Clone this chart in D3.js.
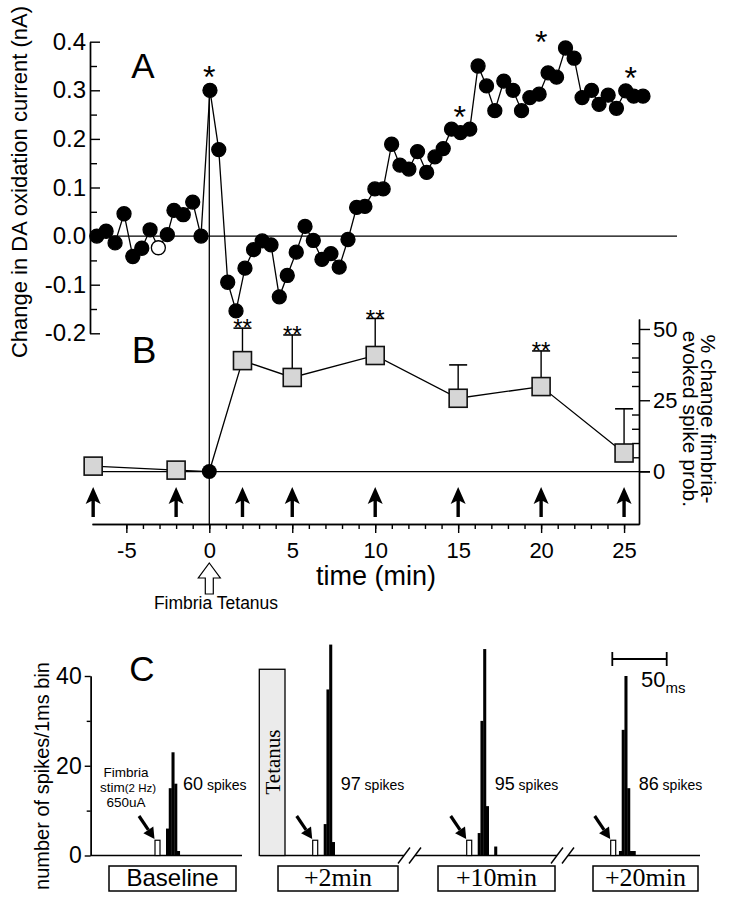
<!DOCTYPE html>
<html><head><meta charset="utf-8">
<script src="https://cdn.jsdelivr.net/npm/d3@7"></script>
<style>body{margin:0;background:#fff}svg{display:block}</style>
</head><body><svg id="c" width="743" height="899"></svg>
<script>
// ---------- DATA ----------
// Panel A: change in DA oxidation current (nA) vs time (min)
const daTime = [-6.78,-6.22,-5.68,-5.14,-4.61,-4.07,-3.57,-3.07,-2.53,-2.13,-1.57,-1.0,-0.5,0.04,0.57,1.11,1.61,2.15,2.67,3.19,3.72,4.22,4.70,5.24,5.77,6.27,6.79,7.33,7.83,8.36,8.88,9.38,9.98,10.48,10.99,11.49,12.03,12.55,13.10,13.60,14.10,14.60,15.14,15.70,16.20,16.71,17.21,17.75,18.31,18.82,19.32,19.88,20.42,20.93,21.47,21.99,22.47,23.04,23.49,24.04,24.54,25.10,25.58,26.14];
const daCurrent = [0.0,0.01,-0.014,0.046,-0.042,-0.025,0.013,-0.024,0.003,0.053,0.044,0.07,0.0,0.30,0.178,-0.095,-0.154,-0.066,-0.028,-0.010,-0.018,-0.125,-0.081,-0.033,0.020,-0.009,-0.048,-0.036,-0.064,-0.007,0.059,0.061,0.097,0.097,0.189,0.146,0.138,0.174,0.131,0.163,0.18,0.22,0.213,0.22,0.35,0.309,0.258,0.319,0.30,0.258,0.285,0.292,0.336,0.327,0.387,0.366,0.285,0.30,0.271,0.29,0.263,0.299,0.288,0.288];
const daHollowTime = [-3.07];
const daStarTime = [0.0, 15.1, 20.0, 25.4];
const daStarLevel = [0.344, 0.262, 0.415, 0.342];
const yTicksA = [-0.2,-0.1,0,0.1,0.2,0.3,0.4];
const yMinorA = [-0.15,-0.05,0.05,0.15,0.25,0.35];

// Panel B: % change fimbria-evoked spike probability
const bTime   = [-7,-2,2,5,10,15,20,25];
const bValue  = [1.9,0.5,38.9,33.0,40.7,25.7,29.8,6.5];
const bErrTop = [null,null,50.3,47.9,53.7,37.4,42.3,22.0];
const bSig    = ["","","**","**","**","","**",""];
const tetTime = [0];
const tetValue = [0];
const xTicksB = [-5,0,5,10,15,20,25];
const xMinorB = d3.range(-5,26);
const yTicksB = [0,25,50];
const yMinorB = [5,10,15,20,30,35,40,45];

// Panel C: peri-stimulus histograms (spikes / 1 ms bin)
const histLabels = ["Baseline","+2min","+10min","+20min"];
const histSpikeTotals = [60,97,95,86];
const histFirstBin = [4,4,4,3];
const histCounts = [[6,15,23,16,1],[7,37,47,3],[5,30,46,11,0,0,2],[1,28,40,15,1,1]];
const stimHeight = 3.4;
const stimBins = 2;
const tetanusHeight = 41.5;
const yTicksC = [0,20,40];
const yMinorC = [10,30];

// ---------- SETUP ----------
const SANS = "'Liberation Sans', Arial, Helvetica, sans-serif";
const SERIF = "'Liberation Serif', 'Times New Roman', serif";
const svg = d3.select("#c");
svg.append("rect").attr("width",743).attr("height",899).attr("fill","#fff");

const xT = d3.scaleLinear().domain([-7.07,25.9]).range([92,639]);
const yA = d3.scaleLinear().domain([-0.2,0.4]).range([333.3,41.7]);
const yB = d3.scaleLinear().domain([-18.4,53.5]).range([524,319]);
const yC = d3.scaleLinear().domain([0,40]).range([855.5,676]);

function styleAxis(g, fs){
  g.selectAll("path,line").attr("stroke","#000").attr("stroke-width",1.4);
  g.selectAll("text").attr("font-family",SANS).attr("font-size",fs).attr("fill","#000");
  g.attr("font-family",SANS);
}

// ---------- PANEL A ----------
const gA = svg.append("g");
gA.append("line").attr("x1",90).attr("x2",677).attr("y1",yA(0)).attr("y2",yA(0))
  .attr("stroke","#000").attr("stroke-width",1.3);
svg.append("line").attr("x1",xT(0)).attr("x2",xT(0)).attr("y1",yA(0.3)).attr("y2",524)
  .attr("stroke","#000").attr("stroke-width",1.3);

const axA = gA.append("g").attr("transform","translate(90,0)")
  .call(d3.axisLeft(yA).tickValues(yTicksA).tickSize(-10).tickSizeOuter(0).tickPadding(4)
    .tickFormat(d => d.toFixed(1)));
styleAxis(axA, 24);
const axAm = gA.append("g").attr("transform","translate(90,0)")
  .call(d3.axisLeft(yA).tickValues(yMinorA).tickSize(-7).tickSizeOuter(0).tickFormat(""));
styleAxis(axAm, 24);

const ptsA = daTime.map((t,i)=>({t, v:daCurrent[i]}));
gA.append("path").datum(ptsA)
  .attr("d", d3.line().x(d=>xT(d.t)).y(d=>yA(d.v)))
  .attr("fill","none").attr("stroke","#000").attr("stroke-width",1.3);
gA.selectAll("circle.da").data(ptsA).join("circle")
  .attr("cx",d=>xT(d.t)).attr("cy",d=>yA(d.v)).attr("r",7)
  .attr("fill",d=>daHollowTime.includes(d.t)?"#fff":"#000")
  .attr("stroke","#000").attr("stroke-width",1.3);

gA.selectAll("text.star").data(daStarTime).join("text")
  .attr("x",(d)=>xT(d)).attr("y",(d,i)=>yA(daStarLevel[i]) + 0.59*32)
  .attr("text-anchor","middle").attr("font-family",SANS).attr("font-size",32).text("*");

gA.append("text").attr("x",143).attr("y",78).attr("text-anchor","middle")
  .attr("font-family",SANS).attr("font-size",35).text("A");

svg.append("text").attr("transform","translate(27,182) rotate(-90)")
  .attr("text-anchor","middle").attr("font-family",SANS).attr("font-size",22)
  .text("Change in DA oxidation current (nA)");

// ---------- PANEL B ----------
const gB = svg.append("g");
gB.append("line").attr("x1",92).attr("x2",650).attr("y1",yB(0)).attr("y2",yB(0))
  .attr("stroke","#000").attr("stroke-width",1.3);

const axBm = gB.append("g").attr("transform","translate(0,524)")
  .call(d3.axisBottom(xT).tickValues(xMinorB).tickSize(5).tickSizeOuter(0).tickFormat(""));
styleAxis(axBm, 22);
const axB = gB.append("g").attr("transform","translate(0,524)")
  .call(d3.axisBottom(xT).tickValues(xTicksB).tickSize(9).tickSizeOuter(0).tickPadding(9)
    .tickFormat(d => String(d)));
styleAxis(axB, 22);

const axR = gB.append("g").attr("transform","translate(639,0)")
  .call(d3.axisRight(yB).tickValues(yTicksB).tickSize(11).tickSizeOuter(0).tickPadding(3));
styleAxis(axR, 22);
const axRm = gB.append("g").attr("transform","translate(639,0)")
  .call(d3.axisRight(yB).tickValues(yMinorB).tickSize(-7).tickSizeOuter(0).tickFormat(""));
styleAxis(axRm, 22);

const ptsB = bTime.map((t,i)=>({t, v:bValue[i], top:bErrTop[i], sig:bSig[i]}));
const lineB = ptsB.concat(tetTime.map((t,i)=>({t, v:tetValue[i]}))).sort((a,b)=>a.t-b.t);
gB.append("path").datum(lineB)
  .attr("d", d3.line().x(d=>xT(d.t)).y(d=>yB(d.v)))
  .attr("fill","none").attr("stroke","#000").attr("stroke-width",1.3);

const errs = ptsB.filter(d=>d.top!=null);
gB.selectAll("line.err").data(errs).join("line")
  .attr("x1",d=>xT(d.t)).attr("x2",d=>xT(d.t)).attr("y1",d=>yB(d.v)).attr("y2",d=>yB(d.top))
  .attr("stroke","#000").attr("stroke-width",1.4);
gB.selectAll("line.cap").data(errs).join("line")
  .attr("x1",d=>xT(d.t)-9).attr("x2",d=>xT(d.t)+9).attr("y1",d=>yB(d.top)).attr("y2",d=>yB(d.top))
  .attr("stroke","#000").attr("stroke-width",1.6);
gB.selectAll("text.sig").data(errs.filter(d=>d.sig)).join("text")
  .attr("x",d=>xT(d.t)).attr("y",d=>yB(d.top)-6+0.59*24)
  .attr("text-anchor","middle").attr("font-family",SANS).attr("font-size",24).text(d=>d.sig);

gB.selectAll("rect.sq").data(ptsB).join("rect")
  .attr("x",d=>xT(d.t)-9).attr("y",d=>yB(d.v)-9).attr("width",18).attr("height",18)
  .attr("fill","#d6d6d6").attr("stroke","#111").attr("stroke-width",1.6);
gB.selectAll("circle.tet").data(tetTime).join("circle")
  .attr("cx",d=>xT(d)).attr("cy",(d,i)=>yB(tetValue[i])).attr("r",7.5).attr("fill","#000");

gB.selectAll("path.arr").data(bTime).join("path")
  .attr("d",d=>{const x=xT(d);return `M${x},487 L${x+7.5},504 L${x+1.7},501 L${x+1.7},517 L${x-1.7},517 L${x-1.7},501 L${x-7.5},504 Z`;})
  .attr("fill","#000");

gB.append("text").attr("x",144).attr("y",363).attr("text-anchor","middle")
  .attr("font-family",SANS).attr("font-size",37).text("B");

svg.append("text").attr("transform","translate(701,419) rotate(90)")
  .attr("text-anchor","middle").attr("font-family",SANS).attr("font-size",21).text("% change fimbria-");
svg.append("text").attr("transform","translate(683,419) rotate(90)")
  .attr("text-anchor","middle").attr("font-family",SANS).attr("font-size",21).text("evoked spike prob.");

svg.append("text").attr("x",376).attr("y",585).attr("text-anchor","middle")
  .attr("font-family",SANS).attr("font-size",27).text("time (min)");

{
  const x = xT(0);
  svg.append("path")
    .attr("d",`M${x},563 L${x+11},578 L${x+4},578 L${x+4},594 L${x-4},594 L${x-4},578 L${x-11},578 Z`)
    .attr("fill","#fff").attr("stroke","#000").attr("stroke-width",1.2);
  svg.append("text").attr("x",216).attr("y",609).attr("text-anchor","middle")
    .attr("font-family",SANS).attr("font-size",17.5).text("Fimbria Tetanus");
}

// ---------- PANEL C ----------
const gC = svg.append("g");
const axC = gC.append("g").attr("transform","translate(90.7,0)")
  .call(d3.axisLeft(yC).tickValues(yTicksC).tickSize(6).tickSizeOuter(0).tickPadding(3));
styleAxis(axC, 23);
const axCm = gC.append("g").attr("transform","translate(90.7,0)")
  .call(d3.axisLeft(yC).tickValues(yMinorC).tickSize(4).tickSizeOuter(0).tickFormat(""));
styleAxis(axCm, 23);

svg.append("text").attr("transform","translate(49,776) rotate(-90)")
  .attr("text-anchor","middle").attr("font-family",SANS).attr("font-size",20)
  .text("number of spikes/1ms bin");

gC.append("text").attr("x",142).attr("y",681).attr("text-anchor","middle")
  .attr("font-family",SANS).attr("font-size",35).text("C");

const y0 = yC(0);
[[90.7,242],[260,404],[415,557],[568,700]].forEach(s=>{
  gC.append("line").attr("x1",s[0]).attr("x2",s[1]).attr("y1",y0).attr("y2",y0)
    .attr("stroke","#000").attr("stroke-width",1.6);
});
[404,415,557,568].forEach(cx=>{
  gC.append("line").attr("x1",cx-6).attr("x2",cx+6).attr("y1",y0+8).attr("y2",y0-8)
    .attr("stroke","#000").attr("stroke-width",1.4);
});

const tetX0 = 259.3, tetX1 = 285;
gC.append("rect").attr("x",tetX0).attr("y",yC(tetanusHeight)).attr("width",tetX1-tetX0)
  .attr("height",y0-yC(tetanusHeight)).attr("fill","#ebebeb").attr("stroke","#000").attr("stroke-width",1.3);
gC.append("text").attr("transform",`translate(${(tetX0+tetX1)/2+1},762) rotate(-90)`)
  .attr("text-anchor","middle").attr("dominant-baseline","central")
  .attr("font-family",SERIF).attr("font-size",21).text("Tetanus");

const histOrigin = [155,312.7,466.7,610.7];
const histBoxes = [[109,236],[278,398],[438,555],[593,698]];
histCounts.forEach((counts,i)=>{
  const xs = d3.scaleLinear().domain([0,10]).range([histOrigin[i], histOrigin[i]+27.5]);
  const g = gC.append("g");
  g.append("rect").attr("x",xs(0)).attr("y",yC(stimHeight)).attr("width",xs(stimBins)-xs(0)-0.5)
    .attr("height",y0-yC(stimHeight)).attr("fill","#fff").attr("stroke","#000").attr("stroke-width",1.2);
  g.selectAll("rect.bin").data(counts).join("rect")
    .attr("x",(d,j)=>xs(histFirstBin[i]+j)).attr("width",xs(1)-xs(0)+0.3)
    .attr("y",d=>yC(d)).attr("height",d=>y0-yC(d)).attr("fill","#000");
  const tx = xs(0)-0.5, ty = 839, fx = xs(0)-16, fy = 816;
  const ang = Math.atan2(ty-fy, tx-fx), L=11, Wd=6;
  const bx = tx - L*Math.cos(ang), by = ty - L*Math.sin(ang);
  g.append("line").attr("x1",fx).attr("y1",fy).attr("x2",bx).attr("y2",by)
    .attr("stroke","#000").attr("stroke-width",3.2);
  g.append("path").attr("d",`M${tx},${ty} L${bx-Wd*Math.sin(ang)},${by+Wd*Math.cos(ang)} L${bx+Wd*Math.sin(ang)},${by-Wd*Math.cos(ang)} Z`)
    .attr("fill","#000");
  const t = g.append("text").attr("x",xs(0)+28).attr("y",790).attr("font-family",SANS);
  t.append("tspan").attr("font-size",18).text(histSpikeTotals[i]);
  t.append("tspan").attr("font-size",14).text(" spikes");
  const b = histBoxes[i];
  g.append("rect").attr("x",b[0]).attr("y",866).attr("width",b[1]-b[0]).attr("height",25)
    .attr("fill","#fff").attr("stroke","#000").attr("stroke-width",1.5);
  g.append("text").attr("x",(b[0]+b[1])/2).attr("y",886).attr("text-anchor","middle")
    .attr("font-family", i===0?SANS:SERIF).attr("font-size", i===0?24:26).text(histLabels[i]);
});

const st = gC.append("g").attr("font-family",SANS).attr("text-anchor","middle");
st.append("text").attr("x",126).attr("y",777).attr("font-size",13.5).text("Fimbria");
const st2 = st.append("text").attr("x",128).attr("y",792);
st2.append("tspan").attr("font-size",13.5).text("stim");
st2.append("tspan").attr("font-size",11.5).text("(2 Hz)");
st.append("text").attr("x",126).attr("y",807).attr("font-size",13.5).text("650uA");

gC.append("line").attr("x1",612.3).attr("x2",666.7).attr("y1",659).attr("y2",659).attr("stroke","#000").attr("stroke-width",1.8);
[612.3,666.7].forEach(x=>gC.append("line").attr("x1",x).attr("x2",x).attr("y1",652).attr("y2",666).attr("stroke","#000").attr("stroke-width",1.8));
const sb = gC.append("text").attr("x",641).attr("y",687).attr("font-family",SANS);
sb.append("tspan").attr("font-size",22).text("50");
sb.append("tspan").attr("font-size",15).attr("dy",6).text("ms");
</script></body></html>
